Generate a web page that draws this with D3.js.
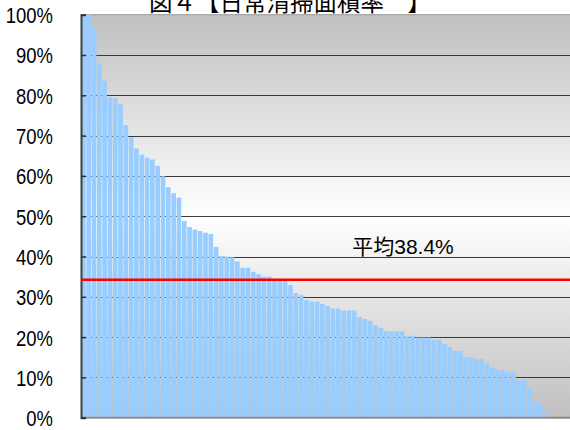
<!DOCTYPE html>
<meta charset="utf-8">
<style>
  body { margin: 0; background: #fff; }
</style>
<svg width="570" height="430"></svg>
<script src="https://d3js.org/d3.v7.min.js"></script>
<script>

// area ratio per site, sorted descending (percent)
var values = [100, 100, 96.9, 87.9, 83.6, 79.5, 79.3, 77.8, 72.6, 69.6,
              66.8, 65.3, 64.5, 64.1, 62.5, 59.9, 57.2, 55.7, 54.6, 48.8,
              47.3, 46.7, 46.3, 45.9, 45.6, 42.4, 40.1, 40.0, 39.8, 38.8,
              37.2, 37.2, 36.2, 35.6, 35.0, 35.0, 34.5, 34.3, 34.1, 32.9,
              30.9, 30.4, 29.2, 28.8, 28.8, 28.2, 27.7, 27.1, 27.1, 26.6,
              26.6, 26.6, 25.0, 24.5, 24.0, 22.9, 22.3, 21.5, 21.4, 21.4,
              21.4, 20.3, 20.3, 19.9, 19.9, 19.9, 19.3, 19.3, 18.3, 17.6,
              16.6, 16.6, 15.1, 15.0, 14.5, 14.5, 13.5, 12.4, 11.8, 11.8,
              11.3, 11.3, 9.3, 9.3, 7.4, 4.0, 3.4, 1.2];
var yTicks = [0, 10, 20, 30, 40, 50, 60, 70, 80, 90, 100];
var avgLineValue = 34.2;
var avgLabel = "平均38.4%";
var title = "図４【日常清掃面積率　】";

var svg = d3.select("svg"),
    width = +svg.attr("width"),
    height = +svg.attr("height");

var plotLeft = 81, plotRight = 572, plotTop = 14.7, plotBottom = 417.7;
var barsEnd = 547.7;

var barColor = "#99ccff";
var gridColor = "#3a3a3a";
var latinFont = "'Liberation Sans', Arial, sans-serif";
var labelFont = "'Liberation Sans', 'Noto Sans CJK JP', sans-serif";
var cjkFont = "'Noto Sans CJK JP', sans-serif";

var x = d3.scaleBand()
    .domain(d3.range(values.length))
    .range([plotLeft, barsEnd])
    .paddingInner(0.12)
    .paddingOuter(0);

var y = d3.scaleLinear()
    .domain([0, 100])
    .range([plotBottom, plotTop]);

// background gradient (gray - white - gray)
var grad = svg.append("defs").append("linearGradient")
    .attr("id", "bg")
    .attr("x1", 0).attr("y1", 0).attr("x2", 0).attr("y2", 1);
grad.append("stop").attr("offset", "0%").attr("stop-color", "#c0c0c0");
grad.append("stop").attr("offset", "50%").attr("stop-color", "#ffffff");
grad.append("stop").attr("offset", "100%").attr("stop-color", "#c0c0c0");

svg.append("rect")
    .attr("x", plotLeft).attr("y", plotTop)
    .attr("width", plotRight - plotLeft).attr("height", plotBottom - plotTop)
    .attr("fill", "url(#bg)");

// gridlines
svg.append("g")
    .selectAll("line")
    .data(yTicks.filter(function(d) { return d > 0 && d < 100; }))
    .enter().append("line")
    .attr("x1", plotLeft).attr("x2", plotRight)
    .attr("y1", function(d) { return Math.round(y(d)) + 0.5; })
    .attr("y2", function(d) { return Math.round(y(d)) + 0.5; })
    .attr("stroke", gridColor)
    .attr("stroke-width", 1);

// top border
svg.append("line")
    .attr("x1", plotLeft).attr("x2", plotRight)
    .attr("y1", y(100)).attr("y2", y(100))
    .attr("stroke", "#9a9a9a")
    .attr("stroke-width", 1);

// bars
svg.append("g")
    .selectAll("rect")
    .data(values)
    .enter().append("rect")
    .attr("x", function(d, i) { return x(i); })
    .attr("width", x.bandwidth())
    .attr("y", function(d) { return y(d); })
    .attr("height", function(d) { return y(0) - y(d); })
    .attr("fill", barColor);

// bottom axis line
svg.append("line")
    .attr("x1", plotLeft).attr("x2", plotRight)
    .attr("y1", plotBottom).attr("y2", plotBottom)
    .attr("stroke", "#8c8c8c")
    .attr("stroke-width", 2);

// left axis with inside ticks
var yAxis = d3.axisLeft(y)
    .tickValues(yTicks)
    .tickSize(-5)
    .tickPadding(0)
    .tickFormat(function(d) { return d + "%"; });

var ax = svg.append("g")
    .attr("transform", "translate(" + plotLeft + ",0)")
    .call(yAxis);

ax.select(".domain")
    .attr("stroke", "#404040")
    .attr("stroke-width", 2);
ax.selectAll(".tick line")
    .attr("stroke", "#303030")
    .attr("stroke-width", 1.5);
ax.selectAll(".tick text")
    .attr("x", 0)
    .attr("dy", "0.36em")
    .attr("transform", "translate(-28,0) scale(0.84,1)")
    .attr("fill", "#000")
    .style("font-family", latinFont)
    .style("font-size", "22px");

// average line
svg.append("line")
    .attr("x1", plotLeft).attr("x2", plotRight)
    .attr("y1", y(avgLineValue)).attr("y2", y(avgLineValue))
    .attr("stroke", "#ff0000")
    .attr("stroke-width", 2.5);

svg.append("text")
    .attr("x", 403)
    .attr("y", 254)
    .attr("text-anchor", "middle")
    .attr("fill", "#000")
    .style("font-family", labelFont)
    .style("font-size", "21px")
    .text(avgLabel);

// title (top is clipped by the page edge)
svg.append("text")
    .attr("x", 290)
    .attr("y", 11)
    .attr("text-anchor", "middle")
    .attr("fill", "#000")
    .style("font-family", cjkFont)
    .style("font-size", "23.5px")
    .text(title);

</script>
